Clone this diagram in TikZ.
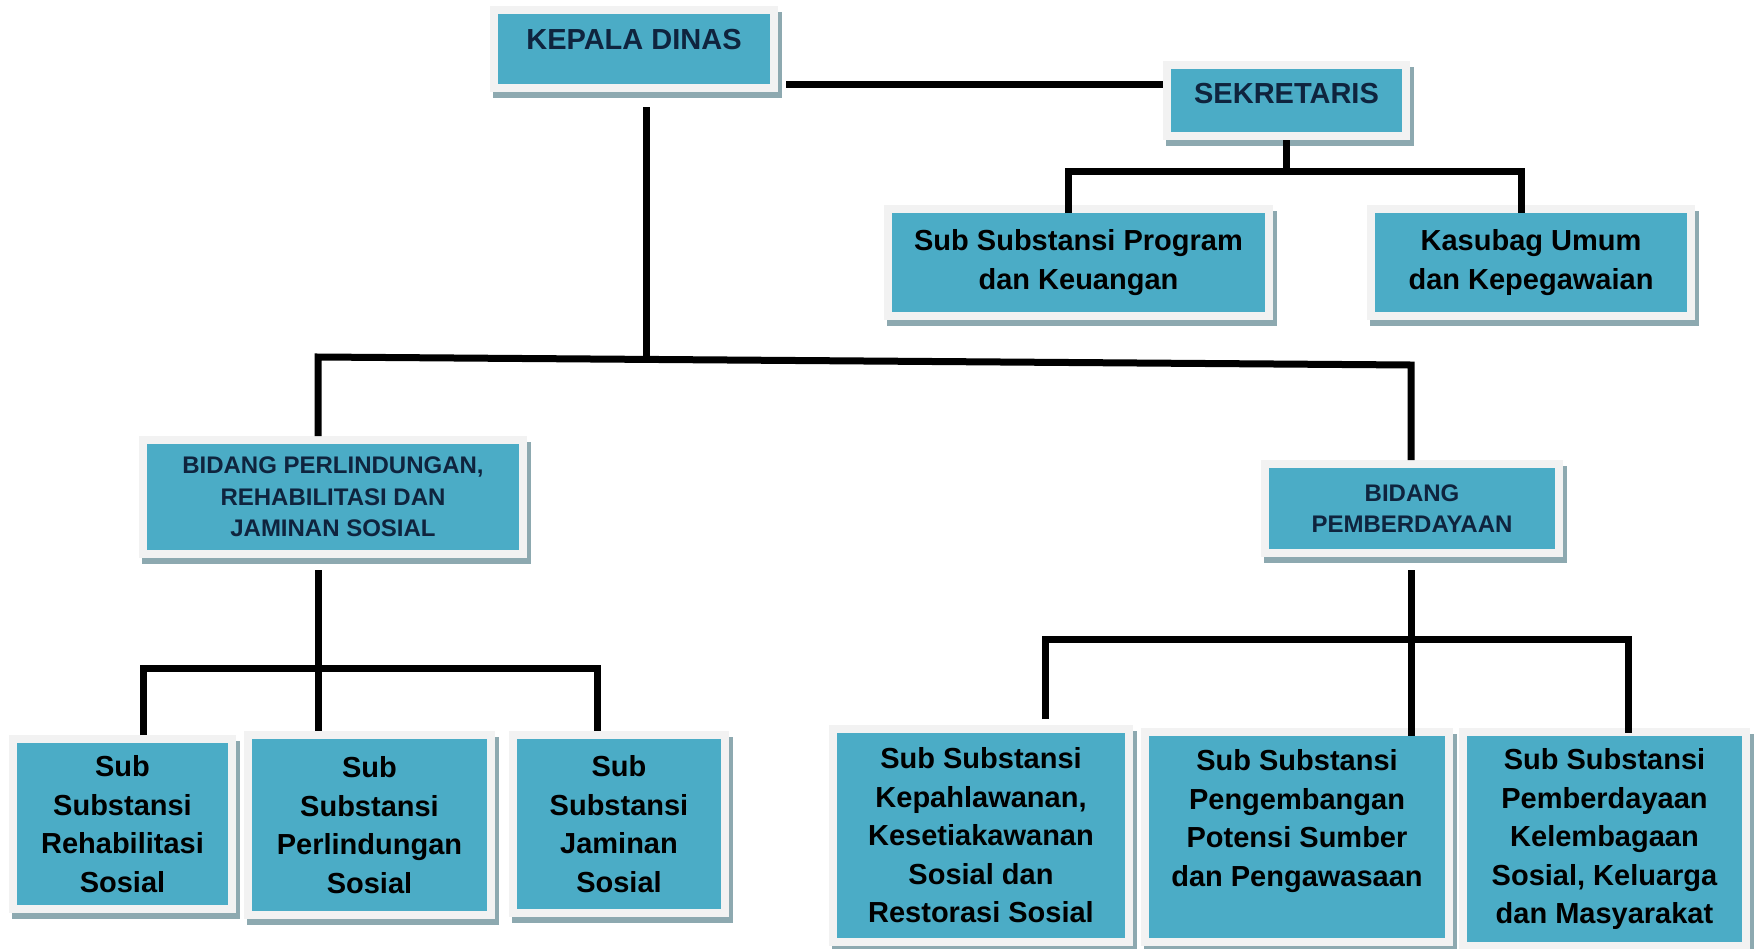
\documentclass[tikz,border=0pt]{standalone}
\usepackage{fontspec}
\setmainfont{Liberation Sans}
\usetikzlibrary{calc}
\definecolor{boxblue}{HTML}{4BACC6}
\definecolor{boxlight}{HTML}{F2F2F2}
\definecolor{shadowc}{HTML}{8DA9B0}
\definecolor{navy}{HTML}{0F243E}
\pgfdeclarelayer{background}
\pgfsetlayers{background,main}
\begin{document}
\begin{tikzpicture}[x=1pt,y=-1pt,
  box/.style={rectangle, fill=boxblue, draw=boxlight, line width=8pt, outer sep=4pt, inner sep=0pt},
  hdr/.style={box, text=navy, font=\fontsize{29}{35}\selectfont\bfseries},
  bid/.style={box, text=navy, align=center, font=\fontsize{24}{31.5}\selectfont\bfseries},
  sub/.style={box, text=black, align=center, font=\fontsize{29}{38.5}\selectfont\bfseries},
  conn/.style={draw=black, line width=7pt}]
\begin{pgfonlayer}{background}
\fill[white] (0,0) rectangle (1754,948);
\end{pgfonlayer}

% boxes
\node[hdr, minimum width=280pt, minimum height=78pt, text depth=20pt] (kd) at (634,49) {KEPALA DINAS};
\node[hdr, minimum width=239pt, minimum height=71pt, text depth=15pt] (sek) at (1286.5,100.5) {SEKRETARIS};
\node[sub, minimum width=381pt, minimum height=107pt] (prog) at (1078.5,262.5) {Sub Substansi Program\\dan Keuangan};
\node[sub, minimum width=320pt, minimum height=107pt] (kas) at (1531,262.5) {Kasubag Umum\\dan Kepegawaian};
\node[bid, minimum width=380pt, minimum height=114pt] (bp) at (333,497) {BIDANG PERLINDUNGAN,\\REHABILITASI DAN\\JAMINAN SOSIAL};
\node[bid, minimum width=294pt, minimum height=89pt] (pem) at (1412,508.5) {BIDANG\\PEMBERDAYAAN};
\node[sub, minimum width=219pt, minimum height=170pt] (s1) at (122.5,824) {Sub\\Substansi\\Rehabilitasi\\Sosial};
\node[sub, minimum width=243pt, minimum height=180pt] (s2) at (369.5,825) {Sub\\Substansi\\Perlindungan\\Sosial};
\node[sub, minimum width=212pt, minimum height=178pt] (s3) at (619,824) {Sub\\Substansi\\Jaminan\\Sosial};
\node[sub, minimum width=296pt, minimum height=213pt] (sa) at (981,835.5) {Sub Substansi\\Kepahlawanan,\\Kesetiakawanan\\Sosial dan\\Restorasi Sosial};
\node[sub, minimum width=304pt, minimum height=210pt] (sb) at (1297,837) {Sub Substansi\\Pengembangan\\Potensi Sumber\\dan Pengawasaan\\\mbox{}};
\node[sub, minimum width=283pt, minimum height=214pt] (sc) at (1604.5,839) {Sub Substansi\\Pemberdayaan\\Kelembagaan\\Sosial, Keluarga\\dan Masyarakat};

% shadows
\begin{pgfonlayer}{background}
\foreach \n in {kd,sek,prog,kas,bp,pem,s1,s2,s3,sa,sb,sc}
  \fill[shadowc] ([shift={(3pt,-6pt)}]\n.south west) rectangle ([shift={(4pt,-6pt)}]\n.north east);
\end{pgfonlayer}

% junctions
\coordinate (jl) at (318,357);
\coordinate (jr) at (1411,365);
\coordinate (jm) at ($(jl)!0.3001!(jr)$);
\coordinate (sl) at (1068,171);
\coordinate (sr) at (1521,171);
\coordinate (bl) at (143,668);
\coordinate (br) at (597,668);
\coordinate (pl) at (1045,639);
\coordinate (pr) at (1628,639);

% connectors
\draw[conn, shorten <=8pt] (kd.east |- 0,84) -- (sek.west |- 0,84);
\draw[conn, shorten <=15pt] (kd.south -| jm) -- (jm);
\draw[conn] (bp.north -| jl) -- (jl) -- (jr) -- (pem.north -| jr);
\draw[conn] (sek.south) -- (sek.south |- sl);
\draw[conn, shorten <=-8pt, shorten >=-8pt] (prog.north -| sl) -- (sl) -- (sr) -- (kas.north -| sr);
\draw[conn, shorten <=12pt] (bp.south -| jl) -- (s2.north -| jl);
\draw[conn] (s1.north -| bl) -- (bl) -- (br) -- (s3.north -| br);
\draw[conn, shorten <=13pt, shorten >=-8pt] (pem.south -| jr) -- (sb.north -| jr);
\draw[conn, shorten <=6pt, shorten >=-5pt] (sa.north -| pl) -- (pl) -- (pr) -- (sc.north -| pr);

\pgfresetboundingbox
\path[use as bounding box] (0,0) rectangle (1754,948);
\end{tikzpicture}
\end{document}
